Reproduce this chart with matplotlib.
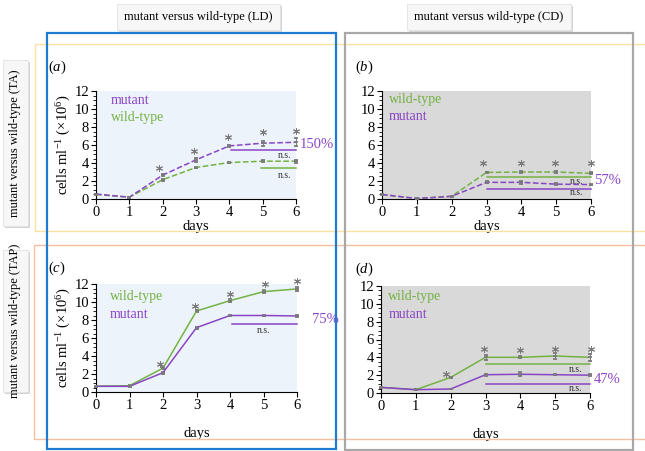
import matplotlib
matplotlib.use("Agg")
import matplotlib.pyplot as plt
from matplotlib.patches import Rectangle
from matplotlib.ticker import MultipleLocator

plt.rcParams['font.family'] = ['Liberation Serif', 'DejaVu Serif']
plt.rcParams['mathtext.fontset'] = 'custom'
plt.rcParams['mathtext.rm'] = 'Liberation Serif'
plt.rcParams['mathtext.it'] = 'Liberation Serif:italic'

W, H = 645, 451
PURPLE = '#8a45c6'
GREEN = '#74b244'
GRAY = '#7a7a7a'

days = [0, 1, 2, 3, 4, 5, 6]

# (a) TA, LD
a_mut = [0.55, 0.2, 2.65, 4.35, 5.9, 6.2, 6.3]
a_mut_err = [0.05, 0.05, 0.1, 0.2, 0.1, 0.3, 0.45]
a_wt = [0.5, 0.2, 2.15, 3.5, 4.05, 4.2, 4.2]
a_wt_err = [0.05, 0.05, 0.1, 0.1, 0.1, 0.1, 0.15]
a_star_x = [1.9, 2.95, 3.95, 5.02, 6.0]
a_star_y = [3.5, 5.35, 6.9, 7.45, 7.6]

# (b) TA, CD
b_wt = [0.5, 0.05, 0.3, 2.95, 3.0, 3.0, 2.85]
b_wt_err = [0.05, 0.05, 0.05, 0.1, 0.1, 0.15, 0.1]
b_mut = [0.5, 0.05, 0.3, 1.85, 1.85, 1.65, 1.6]
b_mut_err = [0.05, 0.05, 0.05, 0.1, 0.15, 0.1, 0.1]
b_star_x = [2.9, 3.98, 4.98, 6.0]
b_star_y = [4.0, 4.0, 4.0, 4.0]

# (c) TAP, LD
c_wt = [0.65, 0.7, 2.65, 9.0, 10.15, 11.15, 11.45]
c_wt_err = [0.05, 0.05, 0.1, 0.15, 0.15, 0.15, 0.2]
c_mut = [0.63, 0.63, 2.15, 7.15, 8.5, 8.5, 8.45]
c_mut_err = [0.05, 0.05, 0.1, 0.1, 0.1, 0.1, 0.1]
c_star_x = [1.9, 2.96, 4.0, 5.05, 6.0]
c_star_y = [3.15, 9.6, 10.85, 11.95, 12.35]

# (d) TAP, CD
d_wt = [0.63, 0.37, 1.75, 4.0, 4.0, 4.15, 4.0]
d_wt_err = [0.05, 0.05, 0.1, 0.3, 0.1, 0.3, 0.4]
d_mut = [0.63, 0.37, 0.45, 2.05, 2.1, 2.05, 2.0]
d_mut_err = [0.05, 0.05, 0.05, 0.1, 0.2, 0.05, 0.1]
d_star_x = [1.88, 2.95, 3.98, 5.0, 6.03]
d_star_y = [2.15, 4.95, 4.85, 4.95, 4.95]

col_headers = ['mutant versus wild-type (LD)', 'mutant versus wild-type (CD)']
row_headers = ['mutant versus wild-type (TA)', 'mutant versus wild-type (TAP)']

fig = plt.figure(figsize=(W / 100, H / 100), dpi=100)


def fx(x):
    return x / W


def fy(y):
    return 1 - y / H


def frame(x0, y0, x1, y1, color, lw):
    fig.patches.append(Rectangle((fx(x0), fy(y1)), fx(x1) - fx(x0), fy(y0) - fy(y1),
                                 transform=fig.transFigure, fill=False,
                                 edgecolor=color, linewidth=lw, zorder=0))


# frames
frame(35, 44, 648, 231, '#fbe2a2', 1.0)
frame(34, 245, 648, 439, '#f6c0a0', 1.0)
frame(47, 33, 336, 449, '#1f7bd0', 1.6)
frame(345, 33, 633, 450, '#a8a8a8', 1.6)


def header_box(x0, y0, x1, y1, text, rot=0):
    fig.patches.append(Rectangle((fx(x0) + 0.003, fy(y1) - 0.004), fx(x1) - fx(x0), fy(y0) - fy(y1),
                                 transform=fig.transFigure, facecolor='#d4d4d4',
                                 edgecolor='none', zorder=1))
    fig.patches.append(Rectangle((fx(x0), fy(y1)), fx(x1) - fx(x0), fy(y0) - fy(y1),
                                 transform=fig.transFigure, facecolor='#f7f7f7',
                                 edgecolor='#e2e2e2', linewidth=0.6, zorder=2))
    fig.text((fx(x0) + fx(x1)) / 2, (fy(y0) + fy(y1)) / 2, text, rotation=rot,
             ha='center', va='center', fontsize=9, zorder=3)


header_box(117, 4, 280, 30, col_headers[0])
header_box(407, 4, 571, 30, col_headers[1])
header_box(3, 60, 28, 226, row_headers[0], rot=90)
header_box(3, 250, 28, 392, row_headers[1], rot=90)


def make_ax(x0, y0, x1, y1, bg):
    ax = fig.add_axes([fx(x0), fy(y1), fx(x1) - fx(x0), fy(y0) - fy(y1)])
    ax.set_facecolor(bg)
    ax.set_xlim(0, 6)
    ax.set_ylim(0, 12)
    ax.set_xticks(days)
    ax.set_yticks([0, 2, 4, 6, 8, 10, 12])
    ax.yaxis.set_minor_locator(MultipleLocator(0.5))
    for s in ['top', 'right']:
        ax.spines[s].set_visible(False)
    for s in ['left', 'bottom']:
        ax.spines[s].set_linewidth(0.8)
    ax.tick_params(axis='both', which='major', labelsize=10.5, length=3.5, width=0.8, direction='out', pad=1.5)
    ax.tick_params(axis='y', which='minor', length=2, width=0.6, direction='out')
    ax.set_xlabel('days', fontsize=10.5, labelpad=1)
    return ax


def series(ax, y, err, color, ls):
    ax.errorbar(days, y, yerr=err, color=color, ls=ls, lw=1.1, marker='_', ms=3.5,
                mec=GRAY, mew=1.3, ecolor=GRAY, elinewidth=0.7, capsize=1.5,
                capthick=0.7, clip_on=False, zorder=3)


def stars(ax, xs, ys):
    ax.plot(xs, ys, ls='none', marker=(6, 2, 0), ms=5, mew=0.7, color=GRAY, clip_on=False, zorder=4)


def ns(ax, x0, x1, y, color, tx, ty):
    ax.plot([x0, x1], [y, y], color=color, lw=1.1, clip_on=False, zorder=3)
    ax.text(tx, ty, 'n.s.', fontsize=7, ha='center', va='center', color='#333333')


def label(ax, x, y, text, color):
    ax.text(x, y, text, color=color, fontsize=10, ha='left', va='center')


ylab = 'cells ml$^{-1}$ (×10$^{6}$)'
LB = '#edf3fa'
GB = '#d9d9d9'

# (a)
ax = make_ax(96, 91, 296, 199, LB)
series(ax, a_wt, a_wt_err, GREEN, '--')
series(ax, a_mut, a_mut_err, PURPLE, '--')
stars(ax, a_star_x, a_star_y)
ns(ax, 4.05, 6, 5.45, PURPLE, 5.65, 4.8)
ns(ax, 4.95, 6, 3.4, GREEN, 5.65, 2.65)
label(ax, 0.45, 10.9, 'mutant', PURPLE)
label(ax, 0.45, 9.05, 'wild-type', GREEN)
ax.text(6.1, 6.1, '150%', color=PURPLE, fontsize=10.5, ha='left', va='center', clip_on=False)
ax.set_ylabel(ylab, fontsize=10.5, labelpad=1)
fig.text(fx(48), fy(67), '($\\mathit{a}$)', fontsize=10.5, va='center')

# (b)
ax = make_ax(382, 91, 591, 199, GB)
series(ax, b_wt, b_wt_err, GREEN, '--')
series(ax, b_mut, b_mut_err, PURPLE, '--')
stars(ax, b_star_x, b_star_y)
ns(ax, 3, 6, 2.4, GREEN, 5.6, 1.95)
ns(ax, 3, 6, 1.15, PURPLE, 5.6, 0.75)
label(ax, 0.2, 11.0, 'wild-type', GREEN)
label(ax, 0.2, 9.2, 'mutant', PURPLE)
ax.text(6.1, 2.1, '57%', color=PURPLE, fontsize=10.5, ha='left', va='center', clip_on=False)
fig.text(fx(355), fy(67), '($\\mathit{b}$)', fontsize=10.5, va='center')

# (c)
ax = make_ax(96, 284, 297, 392, LB)
series(ax, c_wt, c_wt_err, GREEN, '-')
series(ax, c_mut, c_mut_err, PURPLE, '-')
stars(ax, c_star_x, c_star_y)
ns(ax, 4.05, 6, 7.6, PURPLE, 5.0, 6.8)
label(ax, 0.42, 10.6, 'wild-type', GREEN)
label(ax, 0.42, 8.66, 'mutant', PURPLE)
ax.text(6.45, 8.1, '75%', color=PURPLE, fontsize=10.5, ha='left', va='center', clip_on=False)
ax.set_ylabel(ylab, fontsize=10.5, labelpad=1)
ax.xaxis.labelpad = 11
fig.text(fx(48), fy(268), '($\\mathit{c}$)', fontsize=10.5, va='center')

# (d)
ax = make_ax(381, 286, 590, 393, GB)
series(ax, d_wt, d_wt_err, GREEN, '-')
series(ax, d_mut, d_mut_err, PURPLE, '-')
stars(ax, d_star_x, d_star_y)
ns(ax, 3, 6, 3.2, GREEN, 5.6, 2.6)
ns(ax, 3, 6, 1.05, PURPLE, 5.6, 0.45)
label(ax, 0.21, 10.8, 'wild-type', GREEN)
label(ax, 0.21, 8.85, 'mutant', PURPLE)
ax.text(6.1, 1.55, '47%', color=PURPLE, fontsize=10.5, ha='left', va='center', clip_on=False)
ax.xaxis.labelpad = 11
fig.text(fx(355), fy(269), '($\\mathit{d}$)', fontsize=10.5, va='center')

fig.savefig('out.png', dpi=100)
